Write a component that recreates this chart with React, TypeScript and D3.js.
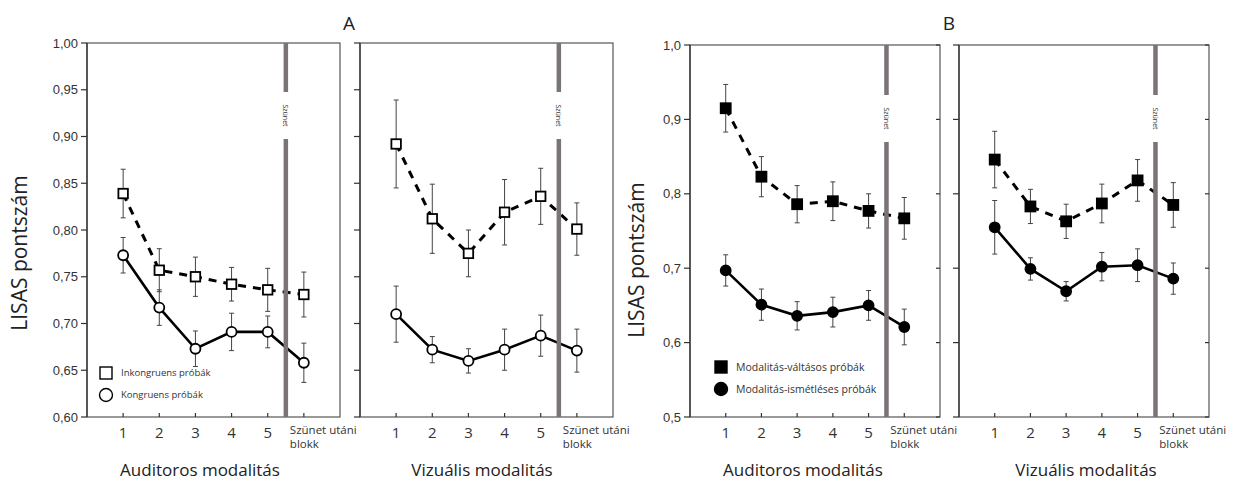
import { useEffect, useRef } from "react"
import * as d3 from "d3"

// blocks on the x axis (6 = block after the pause)
const blocks = [1, 2, 3, 4, 5, 6]
const blockLabels = ["1", "2", "3", "4", "5", "Szünet utáni"]
const pauseAt = 5.5

// A: incongruent (squares) / congruent (circles)
const aAudInc = [0.839, 0.757, 0.75, 0.742, 0.736, 0.731]
const aAudIncErr = [0.026, 0.023, 0.021, 0.018, 0.023, 0.024]
const aAudCon = [0.773, 0.717, 0.673, 0.691, 0.691, 0.658]
const aAudConErr = [0.019, 0.019, 0.019, 0.02, 0.017, 0.021]
const aVisInc = [0.892, 0.812, 0.775, 0.819, 0.836, 0.801]
const aVisIncErr = [0.047, 0.037, 0.025, 0.035, 0.03, 0.028]
const aVisCon = [0.71, 0.672, 0.66, 0.672, 0.687, 0.671]
const aVisConErr = [0.03, 0.014, 0.013, 0.022, 0.022, 0.023]

// B: modality switch (squares) / modality repeat (circles)
const bAudSwitch = [0.915, 0.823, 0.786, 0.79, 0.777, 0.767]
const bAudSwitchErr = [0.032, 0.027, 0.025, 0.026, 0.023, 0.028]
const bAudRep = [0.697, 0.651, 0.636, 0.641, 0.65, 0.621]
const bAudRepErr = [0.021, 0.021, 0.019, 0.02, 0.02, 0.024]
const bVisSwitch = [0.846, 0.783, 0.763, 0.787, 0.818, 0.785]
const bVisSwitchErr = [0.038, 0.023, 0.023, 0.026, 0.028, 0.03]
const bVisRep = [0.755, 0.699, 0.669, 0.702, 0.704, 0.686]
const bVisRepErr = [0.036, 0.015, 0.013, 0.019, 0.022, 0.021]

const aTicks = [0.6, 0.65, 0.7, 0.75, 0.8, 0.85, 0.9, 0.95, 1.0]
const bTicks = [0.5, 0.6, 0.7, 0.8, 0.9, 1.0]

const aLegend = ["Inkongruens próbák", "Kongruens próbák"]
const bLegend = ["Modalitás-váltásos próbák", "Modalitás-ismétléses próbák"]

type Series = { values: number[]; errs: number[]; shape: "square" | "circle"; filled: boolean }

export default function App() {
  const svgRef = useRef<SVGSVGElement>(null)

  useEffect(() => {
    if (!svgRef.current) return
    document.body.style.margin = "0"
    const svg = d3.select(svgRef.current)
    svg.selectAll("*").remove()

    const axisColor = "#333"
    const pauseColor = "#7a7474"
    const sans = "'Open Sans', sans-serif"

    const drawPanel = (
      x0: number,
      width: number,
      y: d3.ScaleLinear<number, number>,
      ticks: number[],
      fmt: (v: number) => string,
      showLabels: boolean,
      rightTicks: boolean,
      gap: [number, number],
      series: Series[],
      title: string,
      titleX: number
    ) => {
      const g = svg.append("g")
      const x = d3.scaleLinear().domain([0, 7]).range([x0, x0 + width])
      const [yb, yt] = y.range()

      // box
      g.append("rect")
        .attr("x", x0).attr("y", yt).attr("width", width).attr("height", yb - yt)
        .style("fill", "none").style("stroke", "#555").style("stroke-width", 1.2)
      g.append("line")
        .attr("x1", x0).attr("x2", x0).attr("y1", yt).attr("y2", yb)
        .style("stroke", axisColor).style("stroke-width", 1.3)

      // y ticks
      ticks.forEach((t) => {
        g.append("line")
          .attr("x1", x0 - 6).attr("x2", x0).attr("y1", y(t)).attr("y2", y(t))
          .style("stroke", axisColor).style("stroke-width", 1.2)
        if (rightTicks) {
          g.append("line")
            .attr("x1", x0 + width - 4).attr("x2", x0 + width).attr("y1", y(t)).attr("y2", y(t))
            .style("stroke", axisColor).style("stroke-width", 1.2)
        }
        if (showLabels) {
          g.append("text")
            .attr("x", x0 - 9).attr("y", y(t)).attr("dy", "0.35em")
            .attr("text-anchor", "end")
            .style("font-family", "'Liberation Sans', Arial, sans-serif")
            .style("font-size", "13px").style("fill", "#333")
            .text(fmt(t))
        }
      })

      // x ticks + labels
      blocks.forEach((b, i) => {
        g.append("line")
          .attr("x1", x(b)).attr("x2", x(b)).attr("y1", yb - 4).attr("y2", yb)
          .style("stroke", axisColor).style("stroke-width", 1.2)
        if (i < 5) {
          g.append("text")
            .attr("x", x(b)).attr("y", yb + 21)
            .attr("text-anchor", "middle")
            .style("font-family", sans).style("font-size", "15px").style("fill", "#333")
            .text(blockLabels[i])
        } else {
          const t = g.append("text")
            .attr("x", x(b) - 14).attr("y", yb + 17)
            .style("font-family", sans).style("font-size", "11.5px").style("fill", "#333")
          t.append("tspan").text(blockLabels[i])
          t.append("tspan").attr("x", x(b) - 14).attr("dy", "1.2em").text("blokk")
        }
      })

      // x title
      g.append("text")
        .attr("x", titleX).attr("y", yb + 59)
        .attr("text-anchor", "middle")
        .style("font-family", sans).style("font-size", "17px").style("fill", "#222")
        .text(title)

      // data lines
      series.forEach((s) => {
        const line = d3.line<number>()
          .x((_, i) => x(blocks[i]))
          .y((v) => y(v))
        g.append("path")
          .datum(s.values)
          .attr("d", line)
          .style("fill", "none")
          .style("stroke", "#000")
          .style("stroke-width", s.shape === "square" ? 3 : 2.6)
          .style("stroke-dasharray", s.shape === "square" ? "8,7" : null)
      })

      // pause bar with gap
      g.append("rect")
        .attr("x", x(pauseAt) - 2.2).attr("y", yt).attr("width", 4.5).attr("height", gap[0] - yt)
        .style("fill", pauseColor)
      g.append("rect")
        .attr("x", x(pauseAt) - 2.2).attr("y", gap[1]).attr("width", 4.5).attr("height", yb - gap[1])
        .style("fill", pauseColor)
      g.append("text")
        .attr("transform", `translate(${x(pauseAt) - 2.5},${(gap[0] + gap[1]) / 2}) rotate(90)`)
        .attr("text-anchor", "middle")
        .style("font-family", sans).style("font-size", "7px").style("fill", "#333")
        .text("Szünet")

      // error bars + markers
      series.forEach((s) => {
        s.values.forEach((v, i) => {
          const cx = x(blocks[i])
          const top = y(v + s.errs[i])
          const bot = y(v - s.errs[i])
          g.append("line").attr("x1", cx).attr("x2", cx).attr("y1", top).attr("y2", bot)
            .style("stroke", "#444").style("stroke-width", 1)
          ;[top, bot].forEach((yy) => {
            g.append("line").attr("x1", cx - 2.5).attr("x2", cx + 2.5).attr("y1", yy).attr("y2", yy)
              .style("stroke", "#444").style("stroke-width", 1)
          })
        })
        s.values.forEach((v, i) => {
          const cx = x(blocks[i])
          const cy = y(v)
          if (s.shape === "square") {
            const sz = s.filled ? 10 : 9.5
            g.append("rect")
              .attr("x", cx - sz / 2).attr("y", cy - sz / 2).attr("width", sz).attr("height", sz)
              .style("fill", s.filled ? "#000" : "#fff")
              .style("stroke", "#000").style("stroke-width", 1.8)
          } else {
            g.append("circle")
              .attr("cx", cx).attr("cy", cy).attr("r", 5)
              .style("fill", s.filled ? "#000" : "#fff")
              .style("stroke", "#000").style("stroke-width", 1.8)
          }
        })
      })
    }

    const legend = (lx: number, ly: number, labels: string[], filled: boolean) => {
      const g = svg.append("g")
      g.append("rect")
        .attr("x", lx - 6).attr("y", ly - 6).attr("width", 12).attr("height", 12)
        .style("fill", filled ? "#000" : "#fff").style("stroke", "#000").style("stroke-width", 1.4)
      g.append("circle")
        .attr("cx", lx).attr("cy", ly + 22).attr("r", 6.5)
        .style("fill", filled ? "#000" : "#fff").style("stroke", "#000").style("stroke-width", 1.4)
      labels.forEach((t, i) => {
        g.append("text")
          .attr("x", lx + 15).attr("y", ly + i * 22).attr("dy", "0.35em")
          .style("font-family", sans).style("font-size", filled ? "10.5px" : "9.5px").style("fill", "#333")
          .text(t)
      })
    }

    const fmtA = (v: number) => d3.format(".2f")(v).replace(".", ",")
    const fmtB = (v: number) => d3.format(".1f")(v).replace(".", ",")

    // Panel A
    const yA = d3.scaleLinear().domain([0.6, 1.0]).range([417, 43])
    drawPanel(87, 253, yA, aTicks, fmtA, true, false, [92, 139], [
      { values: aAudInc, errs: aAudIncErr, shape: "square", filled: false },
      { values: aAudCon, errs: aAudConErr, shape: "circle", filled: false },
    ], "Auditoros modalitás", 200)
    drawPanel(360, 253, yA, aTicks, fmtA, false, false, [92, 139], [
      { values: aVisInc, errs: aVisIncErr, shape: "square", filled: false },
      { values: aVisCon, errs: aVisConErr, shape: "circle", filled: false },
    ], "Vizuális modalitás", 482)
    legend(106, 373, aLegend, false)

    // Panel B
    const yB = d3.scaleLinear().domain([0.5, 1.0]).range([417, 45])
    drawPanel(690, 250, yB, bTicks, fmtB, true, true, [95, 142], [
      { values: bAudSwitch, errs: bAudSwitchErr, shape: "square", filled: true },
      { values: bAudRep, errs: bAudRepErr, shape: "circle", filled: true },
    ], "Auditoros modalitás", 803)
    drawPanel(959, 250, yB, bTicks, fmtB, false, true, [95, 142], [
      { values: bVisSwitch, errs: bVisSwitchErr, shape: "square", filled: true },
      { values: bVisRep, errs: bVisRepErr, shape: "circle", filled: true },
    ], "Vizuális modalitás", 1086)
    legend(721, 367, bLegend, true)

    // y titles
    ;[[20, 253], [637, 260]].forEach(([tx, ty]) => {
      svg.append("text")
        .attr("transform", `translate(${tx},${ty}) rotate(-90)`)
        .attr("text-anchor", "middle").attr("dy", "0.35em")
        .style("font-family", sans).style("font-size", "21px").style("fill", "#222")
        .text("LISAS pontszám")
    })

    // panel letters
    ;[["A", 349], ["B", 949]].forEach(([t, tx]) => {
      svg.append("text")
        .attr("x", tx).attr("y", 30).attr("text-anchor", "middle")
        .style("font-family", sans).style("font-size", "19px").style("fill", "#222")
        .text(t as string)
    })
  }, [])

  return <svg ref={svgRef} width={1234} height={482} style={{ display: "block", background: "#fff" }} />
}
